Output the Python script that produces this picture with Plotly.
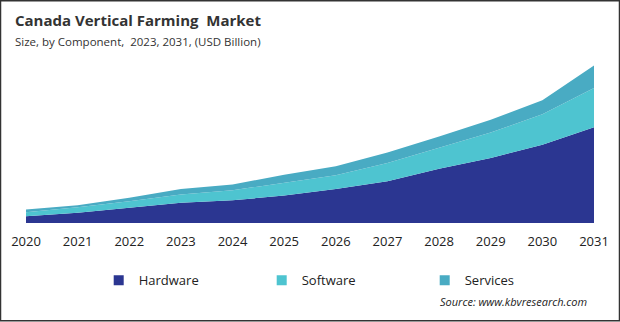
import plotly.graph_objects as go

years = [2020, 2021, 2022, 2023, 2024, 2025, 2026, 2027, 2028, 2029, 2030, 2031]
hardware = [0.068, 0.102, 0.152, 0.202, 0.228, 0.275, 0.342, 0.418, 0.545, 0.652, 0.785, 0.960]
software = [0.040, 0.056, 0.066, 0.083, 0.100, 0.130, 0.138, 0.184, 0.207, 0.256, 0.305, 0.395]
services = [0.027, 0.020, 0.034, 0.057, 0.057, 0.080, 0.088, 0.106, 0.116, 0.127, 0.140, 0.225]

names = ["Hardware", "Software", "Services"]
colors = ["#2B3691", "#4EC4D0", "#49ABC3"]
series = [hardware, software, services]

fig = go.Figure()
for name, vals, col in zip(names, series, colors):
    fig.add_trace(go.Scatter(
        x=years, y=vals, name=name, mode="lines", stackgroup="one",
        line=dict(width=0, color=col), fillcolor=col, showlegend=False,
        hoverinfo="x+y+name"))
for name, col in zip(names, colors):
    fig.add_trace(go.Scatter(
        x=[None], y=[None], name=name, mode="markers",
        marker=dict(symbol="square", size=10, color=col), showlegend=True))

fig.update_layout(
    width=620, height=322,
    margin=dict(l=26, r=26, t=50, b=98.5, autoexpand=False),
    paper_bgcolor="white", plot_bgcolor="white",
    font=dict(family="Open Sans, Noto Sans, sans-serif", color="#222"),
    showlegend=True,
    legend=dict(orientation="h", traceorder="normal", x=0.128, xanchor="left",
                y=-(266 - 223.5)/173.5, yanchor="top",
                font=dict(size=13, color="#222"), entrywidth=118, entrywidthmode="pixels",
                itemwidth=30, tracegroupgap=0, bgcolor="rgba(0,0,0,0)"),
    xaxis=dict(range=[2020, 2031], tickmode="array", tickvals=years,
               ticktext=[str(y) for y in years], showgrid=False, zeroline=False,
               showline=False, ticks="", tickfont=dict(size=13, color="#222"),
               ticklabelstandoff=9),
    yaxis=dict(range=[0, 1.735], visible=False, showgrid=False, zeroline=False),
)

fig.add_annotation(text="<b>Canada Vertical Farming  Market</b>", xref="paper", yref="paper",
                   x=-26/568, y=1 + 30/173.5, xanchor="left", yanchor="middle",
                   showarrow=False, font=dict(size=15, color="#333"), xshift=13)
fig.add_annotation(text="Size, by Component,  2023, 2031, (USD Billion)", xref="paper", yref="paper",
                   x=-26/568, y=1 + 9/173.5, xanchor="left", yanchor="middle",
                   showarrow=False, font=dict(size=11.5, color="#333"), xshift=13)
fig.add_annotation(text="<i>Source: www.kbvresearch.com</i>", xref="paper", yref="paper",
                   x=1 - 5/568, y=-(302 - 223.5)/173.5, xanchor="right", yanchor="middle",
                   showarrow=False, font=dict(size=11, color="#222"))

fig.add_shape(type="rect", xref="paper", yref="paper",
              x0=-26/568 + 0.5/568, x1=1 + 26/568 - 0.5/568,
              y0=-98.5/173.5 + 0.5/173.5, y1=1 + 50/173.5 - 0.5/173.5,
              line=dict(color="#333", width=1.5), fillcolor="rgba(0,0,0,0)", layer="above")

fig.write_html("out.html")
